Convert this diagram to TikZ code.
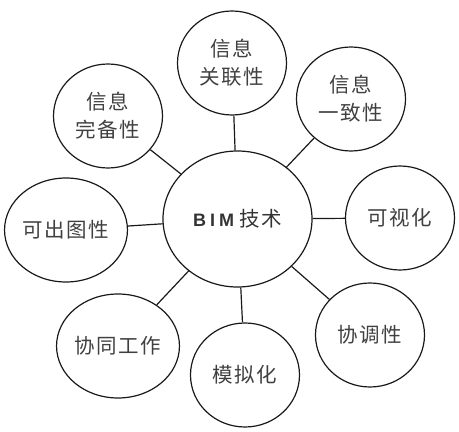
\documentclass[tikz,border=0pt]{standalone}
\usepackage{fontspec}
\setmainfont{Noto Sans CJK SC}[LetterSpace=8]
\newfontfamily\latinfont{Liberation Sans}[LetterSpace=22]
\usetikzlibrary{shapes.geometric}
\begin{document}
\begin{tikzpicture}[x=1pt,y=1pt]
\tikzstyle{hub}=[ellipse,draw=black!90,line width=1.2pt,minimum width=149pt,minimum height=136pt,inner sep=0pt,font=\fontsize{20.5}{28}\selectfont,text=black!80]
\tikzstyle{leaf}=[ellipse,draw=black!90,line width=1.2pt,minimum width=109pt,minimum height=104pt,inner sep=0pt,align=center,font=\fontsize{20.5}{28}\selectfont,text=black!75]
\tikzstyle{link}=[draw=black!90,line width=1.2pt]
\useasboundingbox (0,0) rectangle (459,432);
    \node[hub] (bim) at (237.5,213) {{\latinfont\bfseries\fontsize{18}{20}\selectfont BIM}\hspace{5pt}技术};
    \node[leaf] (rel) at (232,369) {信息\\关联性};
    \node[leaf] (cons) at (351,333) {信息\\一致性};
    \node[leaf] (vis) at (400,214) {可视化};
    \node[leaf] (coord) at (370,97) {协调性};
    \node[leaf] (sim) at (245,57) {模拟化};
    \node[leaf] (collab) at (118,86) {协同工作};
    \node[leaf] (out) at (66,202) {可出图性};
    \node[leaf] (compl) at (108,316) {信息\\完备性};
    \path (bim) edge [link] (rel);
    \path (bim) edge [link] (cons);
    \path (bim) edge [link] (vis);
    \path (bim) edge [link] (coord);
    \path (bim) edge [link] (sim);
    \path (bim) edge [link] (collab);
    \path (bim) edge [link] (out);
    \path (bim) edge [link] (compl);
\end{tikzpicture}
\end{document}
